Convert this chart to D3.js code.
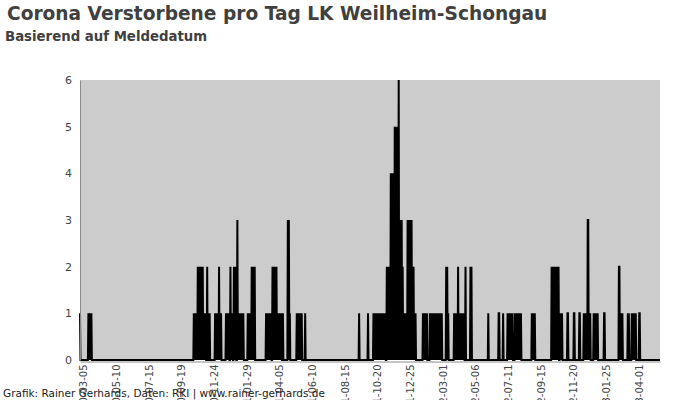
<!DOCTYPE html>
<html>
<head>
<meta charset="utf-8">
<script src="https://cdn.jsdelivr.net/npm/d3@7"></script>
<style>
  html, body { margin: 0; padding: 0; background: #ffffff; }
  svg { display: block; }
  text { font-family: "DejaVu Sans", Verdana, sans-serif; }
</style>
</head>
<body>
<svg id="chart" width="700" height="400"></svg>
<script>
// ---- data ----
const titleText = "Corona Verstorbene pro Tag LK Weilheim-Schongau";
const subtitleText = "Basierend auf Meldedatum";
const footerText = "Grafik: Rainer Gerhards, Daten: RKI | www.rainer-gerhards.de";

const startDate = "2020-02-27";
const endDate = "2023-05-14";

// days with reported deaths (all other days: 0)
const deathDates = [
  "2020-02-27",
  "2020-03-15","2020-03-17","2020-03-19","2020-03-21",
  "2020-10-14","2020-10-16","2020-10-18","2020-10-20","2020-10-22","2020-10-24","2020-10-26","2020-10-28","2020-10-30",
  "2020-11-01","2020-11-03","2020-11-05","2020-11-07","2020-11-10","2020-11-13","2020-11-15",
  "2020-11-26","2020-11-28","2020-11-30","2020-12-02","2020-12-04","2020-12-06","2020-12-08",
  "2020-12-18","2020-12-20","2020-12-22","2020-12-24","2020-12-27","2020-12-29","2020-12-31",
  "2021-01-03","2021-01-05","2021-01-07","2021-01-10","2021-01-12","2021-01-14","2021-01-16","2021-01-18","2021-01-20","2021-01-22",
  "2021-01-31","2021-02-02","2021-02-04","2021-02-06","2021-02-08","2021-02-10","2021-02-12","2021-02-14",
  "2021-03-09","2021-03-11","2021-03-13","2021-03-15","2021-03-17","2021-03-19","2021-03-22","2021-03-24","2021-03-26","2021-03-28","2021-03-30",
  "2021-04-01","2021-04-03","2021-04-05","2021-04-07","2021-04-09","2021-04-12",
  "2021-04-22","2021-04-24","2021-04-26",
  "2021-05-10","2021-05-12","2021-05-14","2021-05-16","2021-05-18","2021-05-20","2021-05-27",
  "2021-09-13","2021-10-01",
  "2021-10-12","2021-10-14","2021-10-16","2021-10-18","2021-10-20","2021-10-22","2021-10-24","2021-10-26","2021-10-28","2021-10-30",
  "2021-11-01","2021-11-03","2021-11-05","2021-11-08","2021-11-10","2021-11-12","2021-11-14",
  "2021-11-16","2021-11-18","2021-11-20","2021-11-22","2021-11-24","2021-11-26","2021-11-28","2021-11-30",
  "2021-12-02","2021-12-04","2021-12-06","2021-12-08","2021-12-10","2021-12-12","2021-12-14","2021-12-16","2021-12-18",
  "2021-12-20","2021-12-22","2021-12-24","2021-12-26","2021-12-28","2021-12-30",
  "2022-01-01","2022-01-03","2022-01-05",
  "2022-01-20","2022-01-22","2022-01-24","2022-01-26","2022-01-28",
  "2022-02-03","2022-02-05","2022-02-07","2022-02-09","2022-02-11","2022-02-13","2022-02-15","2022-02-17","2022-02-19","2022-02-21","2022-02-23","2022-02-25","2022-02-27",
  "2022-03-08","2022-03-10","2022-03-12",
  "2022-03-24","2022-03-26","2022-03-28","2022-03-30","2022-04-01","2022-04-03","2022-04-05","2022-04-07","2022-04-09","2022-04-11","2022-04-13","2022-04-16",
  "2022-04-26","2022-04-28",
  "2022-06-01","2022-06-22","2022-06-23","2022-07-01",
  "2022-07-10","2022-07-12","2022-07-14","2022-07-16","2022-07-18","2022-07-20",
  "2022-07-25","2022-07-27","2022-07-29","2022-07-31","2022-08-02","2022-08-04","2022-08-06",
  "2022-08-28","2022-08-30","2022-09-01","2022-09-03",
  "2022-10-07","2022-10-09","2022-10-11","2022-10-13","2022-10-15","2022-10-17","2022-10-19","2022-10-21","2022-10-24","2022-10-26","2022-10-28",
  "2022-11-08","2022-11-09","2022-11-21","2022-11-22","2022-12-02","2022-12-03",
  "2022-12-11","2022-12-13","2022-12-15","2022-12-17","2022-12-19","2022-12-20","2022-12-22","2022-12-24",
  "2022-12-31","2023-01-02","2023-01-04","2023-01-06","2023-01-08",
  "2023-01-21","2023-01-22",
  "2023-02-20","2023-02-21","2023-02-23","2023-02-25","2023-02-27",
  "2023-03-10","2023-03-12",
  "2023-03-18","2023-03-20","2023-03-22","2023-03-24","2023-03-26",
  "2023-04-02","2023-04-03"
];
const deathCounts = [
  1,
  1,1,1,1,
  1,1,1,1,2,2,2,2,2,
  2,1,1,1,2,1,1,
  1,1,1,1,2,1,1,
  1,1,1,1,2,1,1,
  2,2,2,3,1,1,1,1,1,1,
  1,1,1,1,2,2,2,2,
  1,1,1,1,1,1,2,2,2,2,2,
  1,1,1,1,1,1,
  3,3,1,
  1,1,1,1,1,1,1,
  1,1,
  1,1,1,1,1,1,1,1,1,1,
  1,1,1,2,2,2,2,
  4,4,4,4,5,5,5,5,
  6,3,3,3,2,1,1,1,1,
  3,3,3,3,3,2,
  2,1,1,
  1,1,1,1,1,
  1,1,1,1,1,1,1,1,1,1,1,1,1,
  2,2,1,
  1,1,1,1,2,1,1,1,1,1,1,2,
  2,2,
  1,1,1,1,
  1,1,1,1,1,1,
  1,1,1,1,1,1,1,
  1,1,1,1,
  2,2,2,2,2,2,2,2,1,1,1,
  1,1,1,1,1,1,
  1,1,1,1,3,3,1,1,
  1,1,1,1,1,
  1,1,
  2,2,1,1,1,
  1,1,
  1,1,1,1,1,
  1,1
];

const xTickLabels = [
  "2020-03-05","2020-05-10","2020-07-15","2020-09-19","2020-11-24","2021-01-29",
  "2021-04-05","2021-06-10","2021-08-15","2021-10-20","2021-12-25","2022-03-01",
  "2022-05-06","2022-07-11","2022-09-15","2022-11-20","2023-01-25","2023-04-01"
];
const yTickValues = [0, 1, 2, 3, 4, 5, 6];

// ---- build daily series ----
const parse = d3.utcParse("%Y-%m-%d");
const fmt = d3.utcFormat("%Y-%m-%d");
const byDate = new Map(deathDates.map((d, i) => [d, deathCounts[i]]));
const days = d3.utcDay.range(parse(startDate), d3.utcDay.offset(parse(endDate), 1));
const series = days.map(d => ({ date: d, value: byDate.get(fmt(d)) || 0 }));

// ---- layout ----
const svg = d3.select("#chart");
const plot = { left: 80, right: 660, top: 80, bottom: 360 };

const x = d3.scaleUtc()
  .domain([parse(startDate), parse(endDate)])
  .range([plot.left, plot.right]);
const y = d3.scaleLinear()
  .domain([0, 6])
  .range([plot.bottom, plot.top]);

// background
svg.append("rect")
  .attr("x", plot.left).attr("y", plot.top)
  .attr("width", plot.right - plot.left).attr("height", plot.bottom - plot.top)
  .attr("fill", "#cccccc");

// area + line
const area = d3.area().x(d => x(d.date)).y0(y(0)).y1(d => y(d.value));
const line = d3.line().x(d => x(d.date)).y(d => y(d.value));
svg.append("path").datum(series).attr("d", area).attr("fill", "#000");
svg.append("path").datum(series).attr("d", line)
  .attr("fill", "none").attr("stroke", "#000").attr("stroke-width", 2);

// y axis
const yAxis = svg.append("g")
  .attr("transform", `translate(${plot.left},0)`)
  .call(d3.axisLeft(y).tickValues(yTickValues).tickSize(0).tickPadding(8).tickFormat(d3.format("d")));
yAxis.select(".domain").attr("stroke", "#8a8a8a").attr("stroke-width", 1);
yAxis.selectAll("text").attr("fill", "#444").style("font-size", "11px")
  .style("font-family", "DejaVu Sans");

// x axis (labels are full dates, their year part runs off the bottom edge as in the reference)
const xAxis = svg.append("g")
  .attr("transform", `translate(0,${plot.bottom + 1.5})`)
  .call(d3.axisBottom(x).tickValues(xTickLabels.map(parse)).tickSize(0).tickFormat(fmt));
xAxis.select(".domain").attr("stroke", "#8a8a8a").attr("stroke-width", 1);
xAxis.selectAll("text")
  .attr("x", 0).attr("y", 0).attr("dy", null)
  .attr("transform", "translate(0,3) rotate(-90)")
  .attr("text-anchor", "end")
  .attr("dominant-baseline", "central")
  .attr("fill", "#444")
  .style("font-size", "10px")
  .style("font-family", "DejaVu Sans");

// titles
svg.append("text").attr("x", 7).attr("y", 19.5)
  .attr("fill", "#404040").style("font-size", "18.6px").style("font-weight", "bold")
  .text(titleText);
svg.append("text").attr("x", 5).attr("y", 41)
  .attr("fill", "#404040").style("font-size", "13.3px").style("font-weight", "bold")
  .text(subtitleText);
svg.append("text").attr("x", 3).attr("y", 397)
  .attr("fill", "#222").style("font-size", "10.5px")
  .text(footerText);
</script>
</body>
</html>
